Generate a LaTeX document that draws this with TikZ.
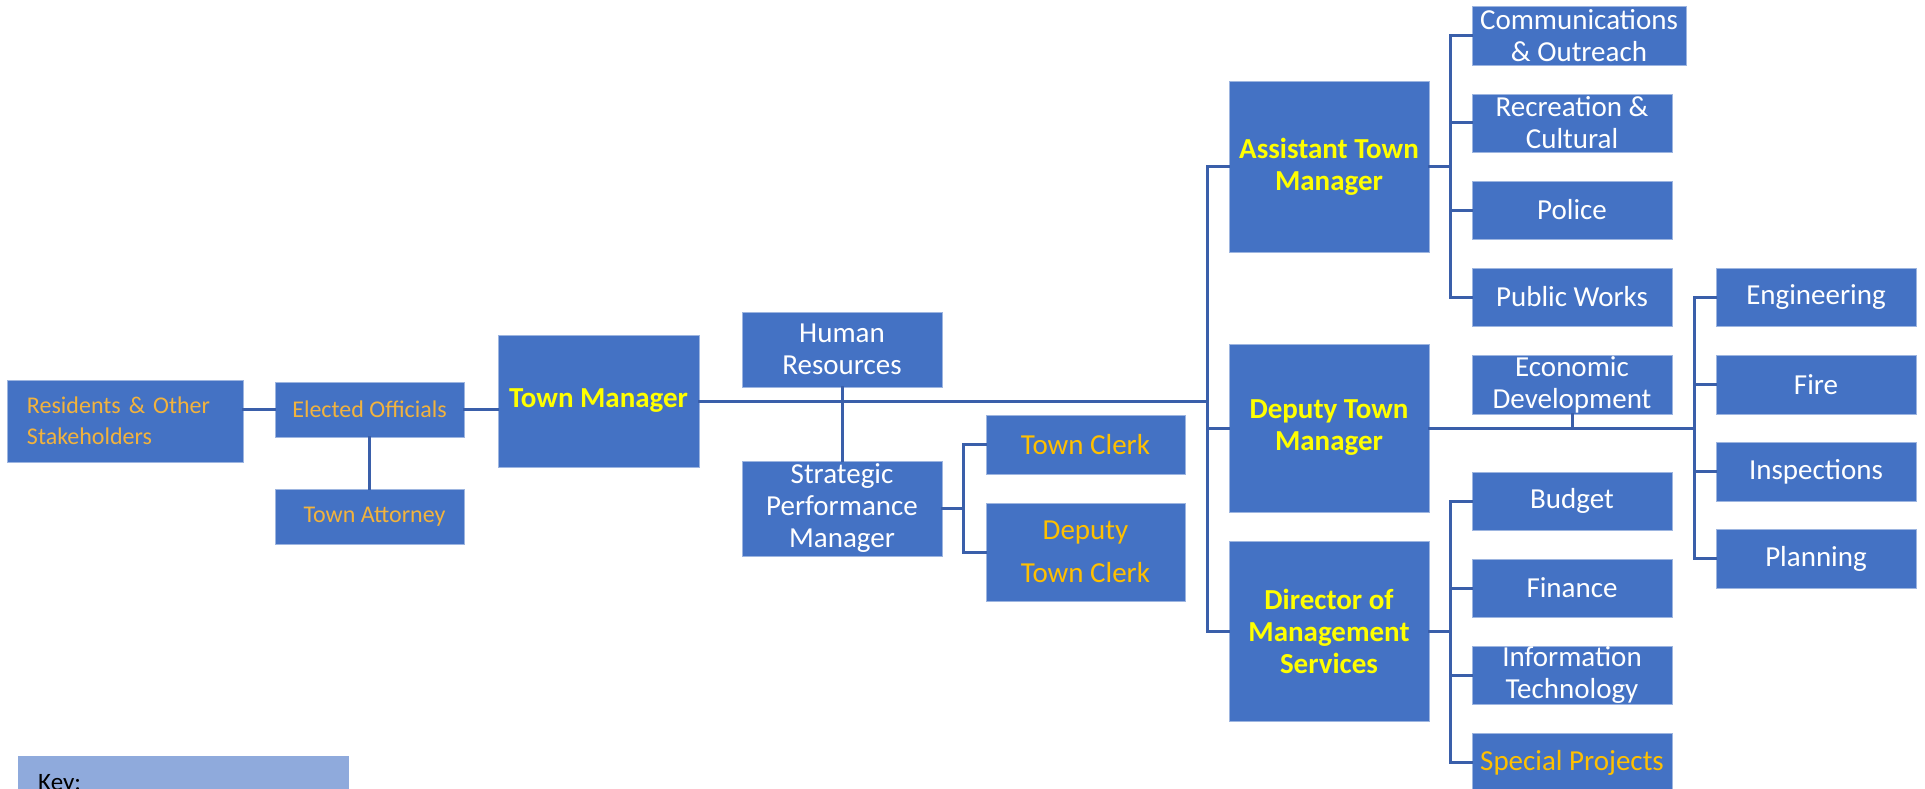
\documentclass[tikz,border=0pt]{standalone}
\usepackage{fontspec}
\setmainfont{Carlito}
\definecolor{boxblue}{HTML}{4472C4}
\definecolor{boxedge}{HTML}{9DB5E0}
\definecolor{linkblue}{HTML}{3A5FAA}
\definecolor{leadyellow}{HTML}{FFFF00}
\definecolor{electorange}{HTML}{F2B33D}
\definecolor{officeorange}{HTML}{FFC000}
\definecolor{keyblue}{HTML}{8FAADC}
\tikzset{
  unit/.style={fill=boxblue, draw=boxedge, line width=0.8pt, inner sep=0pt,
    align=center, text=white, font=\fontsize{29}{32}\selectfont},
  lead/.style={unit, text=leadyellow, font=\fontsize{29}{32}\selectfont\bfseries},
  elect/.style={unit, text=electorange, font=\fontsize{24}{31}\selectfont},
  office/.style={unit, text=officeorange},
  cell/.style={minimum width=200pt, minimum height=58pt},
  link/.style={draw=linkblue, line width=3pt, line cap=rect}
}
\begin{document}
\begin{tikzpicture}[x=1pt, y=-1pt]
\useasboundingbox (0,0) rectangle (1925,789);
\clip (0,0) rectangle (1925,789);

% council side
\node[elect, minimum width=236pt, minimum height=82pt, text width=196pt, align=left]
  (res) at (125,421) {Residents \& Other\\Stakeholders};
\node[elect, minimum width=189pt, minimum height=55pt] (elec) at (369.5,409.5) {Elected Officials};
\node[elect, minimum width=189pt, minimum height=55pt] (atty) at (369.5,516.5) {\hspace*{10pt}Town Attorney};

% town manager and staff
\node[lead, minimum width=201pt, minimum height=132pt] (tm) at (598.5,401) {Town Manager};
\node[unit, minimum width=200pt, minimum height=75pt] (hr) at (842,349.5) {Human\\Resources};
\node[unit, minimum width=200pt, minimum height=95pt] (spm) at (842,508.5) {Strategic\\Performance\\Manager};
\node[office, minimum width=199pt, minimum height=59pt] (clerk) at (1085.5,444.5) {Town Clerk};
\node[office, minimum width=199pt, minimum height=98pt, font=\fontsize{29}{43}\selectfont]
  (dclerk) at (1085.5,552) {Deputy\\Town Clerk};

% deputies
\node[lead, minimum width=200pt, minimum height=171pt] (atm) at (1329,166.5) {Assistant Town\\Manager};
\node[lead, minimum width=200pt, minimum height=168pt] (dtm) at (1329,428) {Deputy Town\\Manager};
\node[lead, minimum width=200pt, minimum height=180pt] (dms) at (1329,631.5) {Director of\\Management\\Services};

% assistant town manager departments
\node[unit, minimum width=214pt, minimum height=59pt] (comm) at (1579,35.5) {Communications\\\& Outreach};
\node[unit, cell] (rec) at (1572,123) {Recreation \&\\Cultural};
\node[unit, cell] (police) at (1572,210) {Police};
\node[unit, cell] (pw) at (1572,297) {Public Works};

% deputy town manager departments
\node[unit, cell, minimum height=59pt] (ed) at (1572,384.5) {Economic\\Development};
\node[unit, cell] (eng) at (1816,297) {Engineering};
\node[unit, cell, minimum height=59pt] (fire) at (1816,384.5) {Fire};
\node[unit, cell, minimum height=59pt] (insp) at (1816,471.5) {Inspections};
\node[unit, cell, minimum height=59pt] (plan) at (1816,558.5) {Planning};

% management services departments
\node[unit, cell] (budget) at (1572,501) {Budget};
\node[unit, cell] (fin) at (1572,588) {Finance};
\node[unit, cell] (it) at (1572,675) {Information\\Technology};
\node[office, cell, minimum height=59pt] (sp) at (1572,762.5) {Special Projects};

% key
\node[fill=keyblue, minimum width=331pt, minimum height=70pt, inner sep=0pt, anchor=north west]
  (key) at (18,756) {};
\node[anchor=base west, inner sep=0pt, font=\fontsize{25}{30}\selectfont, text=black]
  (keylabel) at (38,790) {Key:};

% bracket junctions
\coordinate (trunk) at (1207,401);
\coordinate (spmbar) at (963,508.5);
\coordinate (atmbar) at (1450,166.5);
\coordinate (dtmbar) at (1694,428);
\coordinate (dmsbar) at (1450,631.5);

% council links
\draw[link] (elec.west) -- (elec.west -| res.east);
\draw[link] (elec.east) -- (elec.east -| tm.west);
\draw[link] (elec.south) -- (atty.north);

% town manager line and trunk
\draw[link] (tm.east) -- (trunk);
\draw[link] (hr.south) -- (spm.north);
\draw[link] (trunk |- atm.west) -- (trunk |- dms.west);
\draw[link] (trunk |- atm.west) -- (atm.west);
\draw[link] (trunk |- dtm.west) -- (dtm.west);
\draw[link] (trunk |- dms.west) -- (dms.west);

% clerks
\draw[link] (spm.east) -- (spmbar);
\draw[link] (spmbar |- clerk.west) -- (spmbar |- dclerk.west);
\draw[link] (spmbar |- clerk.west) -- (clerk.west);
\draw[link] (spmbar |- dclerk.west) -- (dclerk.west);

% assistant town manager
\draw[link] (atm.east) -- (atmbar);
\draw[link] (atmbar |- comm.west) -- (atmbar |- pw.west);
\foreach \d in {comm,rec,police,pw}
  \draw[link] (atmbar |- \d.west) -- (\d.west);

% deputy town manager
\draw[link] (dtm.east) -- (dtmbar);
\draw[link] (ed.south) -- (ed.south |- dtmbar);
\draw[link] (dtmbar |- eng.west) -- (dtmbar |- plan.west);
\foreach \d in {eng,fire,insp,plan}
  \draw[link] (dtmbar |- \d.west) -- (\d.west);

% director of management services
\draw[link] (dms.east) -- (dmsbar);
\draw[link] (dmsbar |- budget.west) -- (dmsbar |- sp.west);
\foreach \d in {budget,fin,it,sp}
  \draw[link] (dmsbar |- \d.west) -- (\d.west);
\end{tikzpicture}
\end{document}
